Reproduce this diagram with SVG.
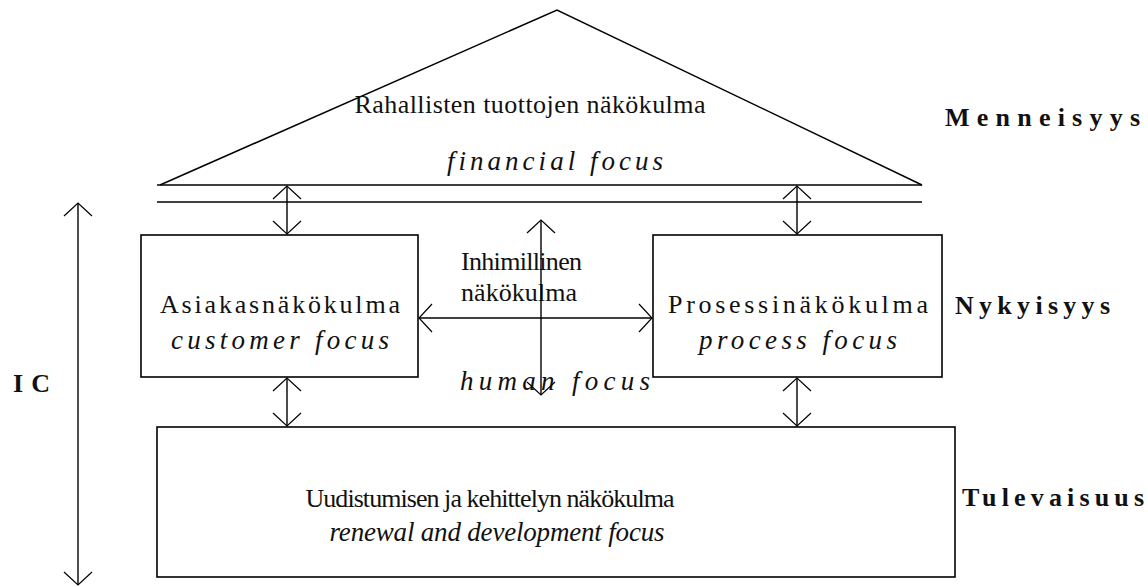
<svg xmlns="http://www.w3.org/2000/svg" width="1148" height="587" viewBox="0 0 1148 587">
<defs>
<marker id="v" viewBox="0 0 30 30" refX="29" refY="15" markerWidth="30" markerHeight="30" markerUnits="userSpaceOnUse" orient="auto-start-reverse">
<path d="M16,1 L29,15 L16,29" fill="none" stroke="#000" stroke-width="1.2"/>
</marker>
<style>
.ln{stroke:#000;stroke-width:1.5;fill:none}
.box{stroke:#000;stroke-width:1.6;fill:#fff}
.t{font-family:"Liberation Serif","Times New Roman",serif;font-size:26px;fill:#111}
.i{font-style:italic;font-size:27px}
.b{font-family:"Liberation Serif","Times New Roman",serif;font-size:26px;font-weight:bold;fill:#111}
.ar{stroke:#000;stroke-width:1.4;fill:none;marker-start:url(#v);marker-end:url(#v)}
</style>
</defs>
<rect width="1148" height="587" fill="#fff"/>
<g id="roof">
<path class="ln" d="M160,185 L557,10 L922,185"/>
<line class="ln" x1="157" y1="185" x2="922" y2="185"/>
<line class="ln" x1="157" y1="202" x2="922" y2="202"/>
<text class="t" x="530" y="113" text-anchor="middle" textLength="351" lengthAdjust="spacing">Rahallisten tuottojen näkökulma</text>
<text class="t i" x="555" y="170" text-anchor="middle" textLength="216" lengthAdjust="spacing">financial focus</text>
</g>
<g id="customer">
<rect class="box" x="141" y="235" width="277" height="142"/>
<text class="t" x="280" y="313" text-anchor="middle" textLength="240" lengthAdjust="spacing">Asiakasnäkökulma</text>
<text class="t i" x="280" y="349" text-anchor="middle" textLength="218" lengthAdjust="spacing">customer focus</text>
</g>
<g id="process">
<rect class="box" x="653" y="235" width="289" height="142"/>
<text class="t" x="798" y="313" text-anchor="middle" textLength="260" lengthAdjust="spacing">Prosessinäkökulma</text>
<text class="t i" x="798" y="349" text-anchor="middle" textLength="198" lengthAdjust="spacing">process focus</text>
</g>
<g id="human">
<text class="t" x="461" y="270" textLength="121" lengthAdjust="spacing">Inhimillinen</text>
<text class="t" x="461" y="301" textLength="116" lengthAdjust="spacing">näkökulma</text>
<text class="t i" x="460" y="390" textLength="190" lengthAdjust="spacing">human focus</text>
</g>
<g id="renewal">
<rect class="box" x="157" y="427" width="798" height="150"/>
<text class="t" x="490" y="507" text-anchor="middle" textLength="369" lengthAdjust="spacing">Uudistumisen ja kehittelyn näkökulma</text>
<text class="t i" x="497" y="541" text-anchor="middle" textLength="335" lengthAdjust="spacing">renewal and development focus</text>
</g>
<g id="labels">
<text class="b" x="945" y="126" textLength="195" lengthAdjust="spacing">Menneisyys</text>
<text class="b" x="955" y="314" textLength="155" lengthAdjust="spacing">Nykyisyys</text>
<text class="b" x="962" y="506" textLength="182" lengthAdjust="spacing">Tulevaisuus</text>
<text class="b" x="13" y="392" textLength="37" lengthAdjust="spacing">IC</text>
</g>
<g id="connectors">
<line class="ar" x1="287" y1="186" x2="287" y2="234"/>
<line class="ar" x1="797" y1="186" x2="797" y2="234"/>
<line class="ar" x1="287" y1="378" x2="287" y2="426"/>
<line class="ar" x1="797" y1="378" x2="797" y2="426"/>
<line class="ar" x1="419" y1="318" x2="652" y2="318"/>
<line class="ar" x1="541" y1="220" x2="541" y2="395"/>
<line class="ar" x1="78" y1="203" x2="78" y2="585"/>
</g>
</svg>
